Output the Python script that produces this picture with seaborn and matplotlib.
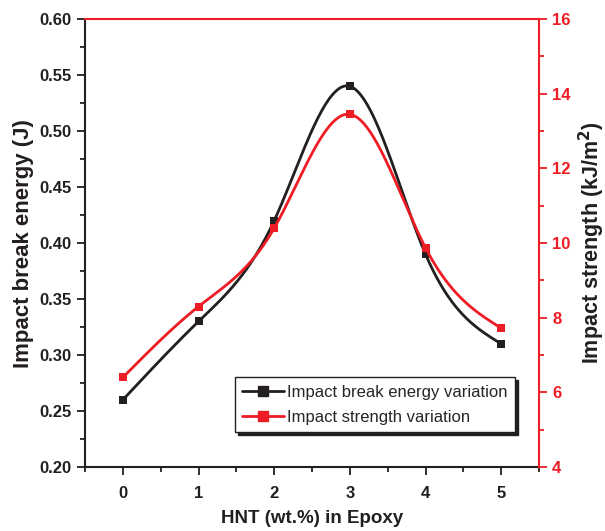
import numpy as np
import pandas as pd
import matplotlib
matplotlib.use("Agg")
import matplotlib.pyplot as plt
import seaborn as sns
from matplotlib.lines import Line2D
from matplotlib.ticker import MultipleLocator, FormatStrFormatter

hnt = [0, 1, 2, 3, 4, 5]
break_energy = [0.26, 0.33, 0.42, 0.54, 0.39, 0.31]
impact_strength = [6.4, 8.3, 10.4, 13.45, 9.87, 7.72]


def smooth(x, y, n=300):
    # natural cubic spline through the measured points (line styling only)
    x = np.asarray(x, float)
    y = np.asarray(y, float)
    k = len(x)
    h = np.diff(x)
    A = np.zeros((k, k))
    b = np.zeros(k)
    A[0, 0] = A[-1, -1] = 1
    for i in range(1, k - 1):
        A[i, i - 1] = h[i - 1]
        A[i, i] = 2 * (h[i - 1] + h[i])
        A[i, i + 1] = h[i]
        b[i] = 6 * ((y[i + 1] - y[i]) / h[i] - (y[i] - y[i - 1]) / h[i - 1])
    m = np.linalg.solve(A, b)
    xs = np.linspace(x[0], x[-1], n)
    idx = np.clip(np.searchsorted(x, xs) - 1, 0, k - 2)
    x0, x1 = x[idx], x[idx + 1]
    hh = x1 - x0
    t0, t1 = x1 - xs, xs - x0
    ys = (m[idx] * t0**3 + m[idx + 1] * t1**3) / (6 * hh) \
        + (y[idx] / hh - m[idx] * hh / 6) * t0 \
        + (y[idx + 1] / hh - m[idx + 1] * hh / 6) * t1
    return xs, ys


sns.set_style("ticks")
plt.rcParams['font.family'] = ['Liberation Sans', 'DejaVu Sans']

fig = plt.figure(figsize=(6.05, 5.31), dpi=100)
ax = fig.add_axes([0.1405, 0.1205, 0.7505, 0.8435])
ax2 = ax.twinx()

red = '#ee1c24'
black = '#231f20'

xs, ys = smooth(hnt, break_energy)
sns.lineplot(x=xs, y=ys, ax=ax, color=black, lw=2, legend=False)
sns.scatterplot(x=hnt, y=break_energy, ax=ax, color=black, marker='s', s=40,
                edgecolor=black, linewidth=0, legend=False, zorder=5)

xs2, ys2 = smooth(hnt, impact_strength)
sns.lineplot(x=xs2, y=ys2, ax=ax2, color=red, lw=2, legend=False)
sns.scatterplot(x=hnt, y=impact_strength, ax=ax2, color=red, marker='s', s=40,
                edgecolor=red, linewidth=0, legend=False, zorder=5)

ax.set_xlim(-0.5, 5.5)
ax.set_ylim(0.20, 0.60)
ax2.set_ylim(4, 16)
ax.set_xticks(hnt)
ax.xaxis.set_minor_locator(MultipleLocator(0.5))
ax.yaxis.set_major_locator(MultipleLocator(0.05))
ax.yaxis.set_minor_locator(MultipleLocator(0.025))
ax2.yaxis.set_major_locator(MultipleLocator(2))
ax2.yaxis.set_minor_locator(MultipleLocator(1))

for a in (ax, ax2):
    for s in a.spines.values():
        s.set_linewidth(1.5)
        s.set_visible(True)
ax.spines['left'].set_color(black)
ax.spines['bottom'].set_color(black)
ax2.spines['right'].set_color(red)
ax2.spines['top'].set_color(red)
ax2.spines['left'].set_visible(False)
ax2.spines['bottom'].set_visible(False)
ax.spines['right'].set_visible(False)
ax.spines['top'].set_visible(False)

ax.tick_params(axis='both', which='major', direction='out', length=6, width=1.3,
               labelsize=12, colors=black)
ax.tick_params(axis='x', which='major', pad=8)
ax.tick_params(axis='both', which='minor', direction='out', length=3.5, width=1.3, colors=black)
ax2.tick_params(axis='y', which='major', direction='out', length=6, width=1.3,
                labelsize=12, colors=red)
ax2.tick_params(axis='y', which='minor', direction='out', length=3.5, width=1.3, colors=red)
for lab in ax.get_xticklabels() + ax.get_yticklabels() + ax2.get_yticklabels():
    lab.set_fontweight('bold')
ax.yaxis.set_major_formatter(FormatStrFormatter('%.2f'))

ax.set_xlabel('HNT (wt.%) in Epoxy', fontsize=13.5, fontweight='bold', color=black, labelpad=6)
ax.set_ylabel('Impact break energy (J)', fontsize=16, fontweight='bold', color=black, labelpad=4)
ax2.set_ylabel('Impact strength (kJ/m$^\\mathbf{2}$)', fontsize=15.5, fontweight='bold',
               color=black, labelpad=4)

handles = [
    Line2D([], [], color=black, lw=2, marker='s', markersize=7, label='Impact break energy variation'),
    Line2D([], [], color=red, lw=2, marker='s', markersize=7, label='Impact strength variation'),
]
leg = ax.legend(handles=handles, loc='lower right', bbox_to_anchor=(0.948, 0.078),
                fontsize=12, frameon=True, fancybox=False, shadow={'color': black, 'alpha': 1},
                edgecolor=black, borderpad=0.45, handlelength=2.5, handletextpad=0.2,
                labelspacing=0.6, borderaxespad=0)
leg.get_frame().set_linewidth(1)

fig.savefig('out.png', dpi=100)
